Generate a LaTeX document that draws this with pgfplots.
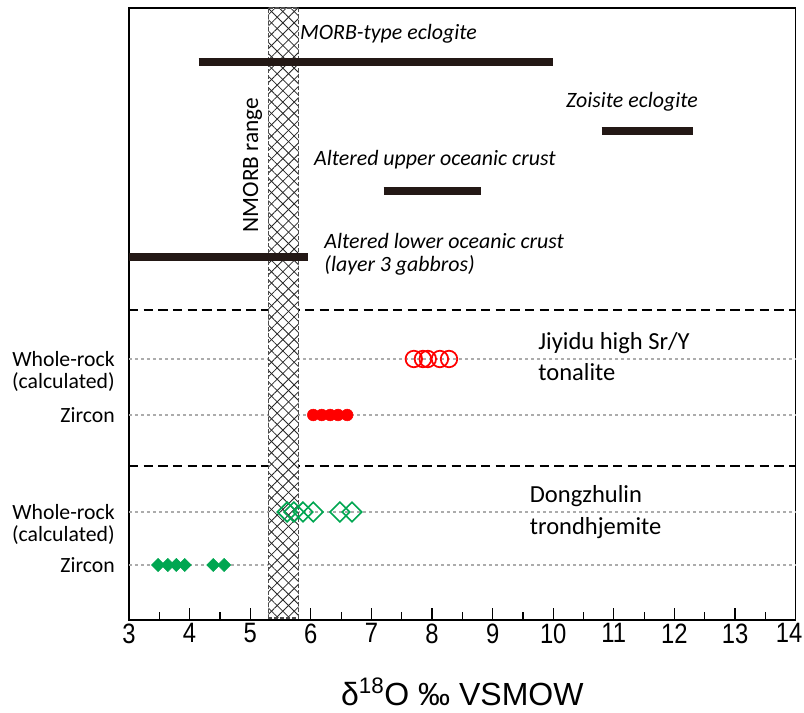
\documentclass[border=0pt]{standalone}
\usepackage{fontspec}
\setmainfont{Carlito}
\newfontfamily\arialfont{Liberation Sans}
\newfontfamily\arialnarrow{Liberation Sans}[FakeStretch=0.85]
\usepackage{pgfplots}
\pgfplotsset{compat=1.18}
\usetikzlibrary{patterns.meta}
\definecolor{barcol}{RGB}{35,24,21}
\definecolor{mygreen}{RGB}{0,166,81}
\definecolor{myred}{RGB}{255,0,0}
\newcommand{\lblfont}{\fontsize{16.3pt}{18pt}\selectfont}
\newcommand{\itfont}{\fontsize{16.4pt}{18pt}\selectfont\itshape}
\newcommand{\grpfont}{\fontsize{18.4pt}{20pt}\selectfont}
\begin{document}
\begin{tikzpicture}
\useasboundingbox (-96.75pt,-69.75pt) rectangle (506.25pt,465pt);
\begin{axis}[
  scale only axis, width=500pt, height=459pt,
  at={(0,0)}, anchor=south west,
  xmin=3, xmax=14, ymin=0, ymax=612,
  axis line style={line width=1.1pt, black},
  ytick=\empty,
  xtick={3,4,...,14},
  xticklabels={3,4,5,6,7,8,9,10,11,12,13,{\makebox[0pt][r]{14\hspace*{-5pt}}}},
  minor x tick num=1,
  xtick pos=bottom,
  tick align=inside,
  major tick length=9pt, minor tick length=6pt,
  every tick/.style={line width=0.9pt, black},
  /pgf/number format/assume math mode=true,
  xticklabel style={font=\fontsize{21pt}{21pt}\selectfont\arialnarrow, inner sep=0pt, yshift=-2.5pt},
  xlabel={δ\textsuperscript{18}O ‰ VSMOW},
  xlabel style={font=\fontsize{24pt}{24pt}\selectfont\arialfont, at={(axis description cs:0.5,0)}, anchor=center, yshift=-54pt, inner sep=0pt},
  clip=false,
]
% dotted guide lines
\addplot[gray!65, line width=1pt, dash pattern=on 2pt off 2.5pt] coordinates {(3,261) (14,261)};
\addplot[gray!65, line width=1pt, dash pattern=on 2pt off 2.5pt] coordinates {(3,205) (14,205)};
\addplot[gray!65, line width=1pt, dash pattern=on 2pt off 2.5pt] coordinates {(3,108) (14,108)};
\addplot[gray!65, line width=1pt, dash pattern=on 2pt off 2.5pt] coordinates {(3,55) (14,55)};
% dashed separators
\addplot[black, line width=1.3pt, dash pattern=on 7pt off 4pt] coordinates {(3,310) (14,310)};
\addplot[black, line width=1.3pt, dash pattern=on 7pt off 4pt] coordinates {(3,154) (14,154)};
% NMORB range hatched band
\addplot[draw=none, fill=white] coordinates {(5.3,2) (5.8,2) (5.8,612) (5.3,612) (5.3,2)};
\addplot[draw=none, pattern={Lines[angle=45,distance=6pt,line width=0.6pt]}, pattern color=black!85] coordinates {(5.3,2) (5.8,2) (5.8,612) (5.3,612) (5.3,2)};
\addplot[draw=none, pattern={Lines[angle=-45,distance=6pt,line width=0.6pt]}, pattern color=black!85] coordinates {(5.3,2) (5.8,2) (5.8,612) (5.3,612) (5.3,2)};
\addplot[gray!60!black, line width=0.8pt, dash pattern=on 3pt off 1.5pt] coordinates {(5.3,2) (5.8,2) (5.8,612) (5.3,612) (5.3,2)};
% range bars
\addplot[barcol, line width=6.5pt] coordinates {(4.15,558) (10.0,558)};
\addplot[barcol, line width=6.5pt] coordinates {(10.8,489) (12.3,489)};
\addplot[barcol, line width=6.5pt] coordinates {(7.2,429) (8.8,429)};
\addplot[barcol, line width=6.5pt] coordinates {(3.0,363) (5.95,363)};
% Jiyidu whole-rock (open red circles)
\addplot[only marks, mark=o, mark size=6.2pt, mark options={myred, line width=1.3pt}] coordinates {
(7.70,261) (7.85,261) (7.93,261) (8.13,261) (8.28,261)};
% Jiyidu zircon (filled red circles)
\addplot[only marks, mark=*, mark size=4.4pt, mark options={myred, draw=myred}] coordinates {
(6.04,205) (6.18,205) (6.32,205) (6.45,205) (6.60,205)};
% Dongzhulin whole-rock (open green diamonds)
\addplot[only marks, mark=square, mark size=5.2pt, mark options={mygreen, line width=1.2pt, rotate=45}] coordinates {
(5.61,108) (5.72,108) (5.87,108) (6.04,108) (6.48,108) (6.68,108)};
% Dongzhulin zircon (filled green diamonds)
\addplot[only marks, mark=square*, mark size=3.5pt, mark options={mygreen, draw=mygreen, rotate=45}] coordinates {
(3.48,55) (3.64,55) (3.78,55) (3.92,55) (4.39,55) (4.57,55)};
% text labels
\node[anchor=west, inner sep=0pt, font=\itfont] at (axis cs:5.82,586) {MORB-type eclogite};
\node[anchor=center, inner sep=0pt, font=\itfont] at (axis cs:11.3,518) {Zoisite eclogite};
\node[anchor=west, inner sep=0pt, font=\itfont] at (axis cs:6.05,460) {Altered upper oceanic crust};
\node[anchor=west, inner sep=0pt, font=\itfont] at (axis cs:6.22,379) {Altered lower oceanic crust};
\node[anchor=west, inner sep=0pt, font=\itfont] at (axis cs:6.22,355) {(layer 3 gabbros)};
\node[rotate=90, inner sep=0pt, font=\fontsize{17.5pt}{18pt}\selectfont] at (axis cs:5.04,455) {NMORB range};
\node[anchor=west, inner sep=0pt, font=\grpfont] at (axis cs:9.75,277) {Jiyidu high Sr/Y};
\node[anchor=west, inner sep=0pt, font=\grpfont] at (axis cs:9.75,248) {tonalite};
\node[anchor=west, inner sep=0pt, font=\grpfont] at (axis cs:9.61,124) {Dongzhulin};
\node[anchor=west, inner sep=0pt, font=\grpfont] at (axis cs:9.61,92) {trondhjemite};
\node[anchor=east, inner sep=0pt, font=\lblfont, xshift=-10.5pt] at (axis cs:3,261) {Whole-rock};
\node[anchor=east, inner sep=0pt, font=\lblfont, xshift=-10.5pt] at (axis cs:3,238) {(calculated)};
\node[anchor=east, inner sep=0pt, font=\lblfont, xshift=-10.5pt] at (axis cs:3,205) {Zircon};
\node[anchor=east, inner sep=0pt, font=\lblfont, xshift=-10.5pt] at (axis cs:3,108) {Whole-rock};
\node[anchor=east, inner sep=0pt, font=\lblfont, xshift=-10.5pt] at (axis cs:3,85) {(calculated)};
\node[anchor=east, inner sep=0pt, font=\lblfont, xshift=-10.5pt] at (axis cs:3,55) {Zircon};
\end{axis}
\end{tikzpicture}
\end{document}
